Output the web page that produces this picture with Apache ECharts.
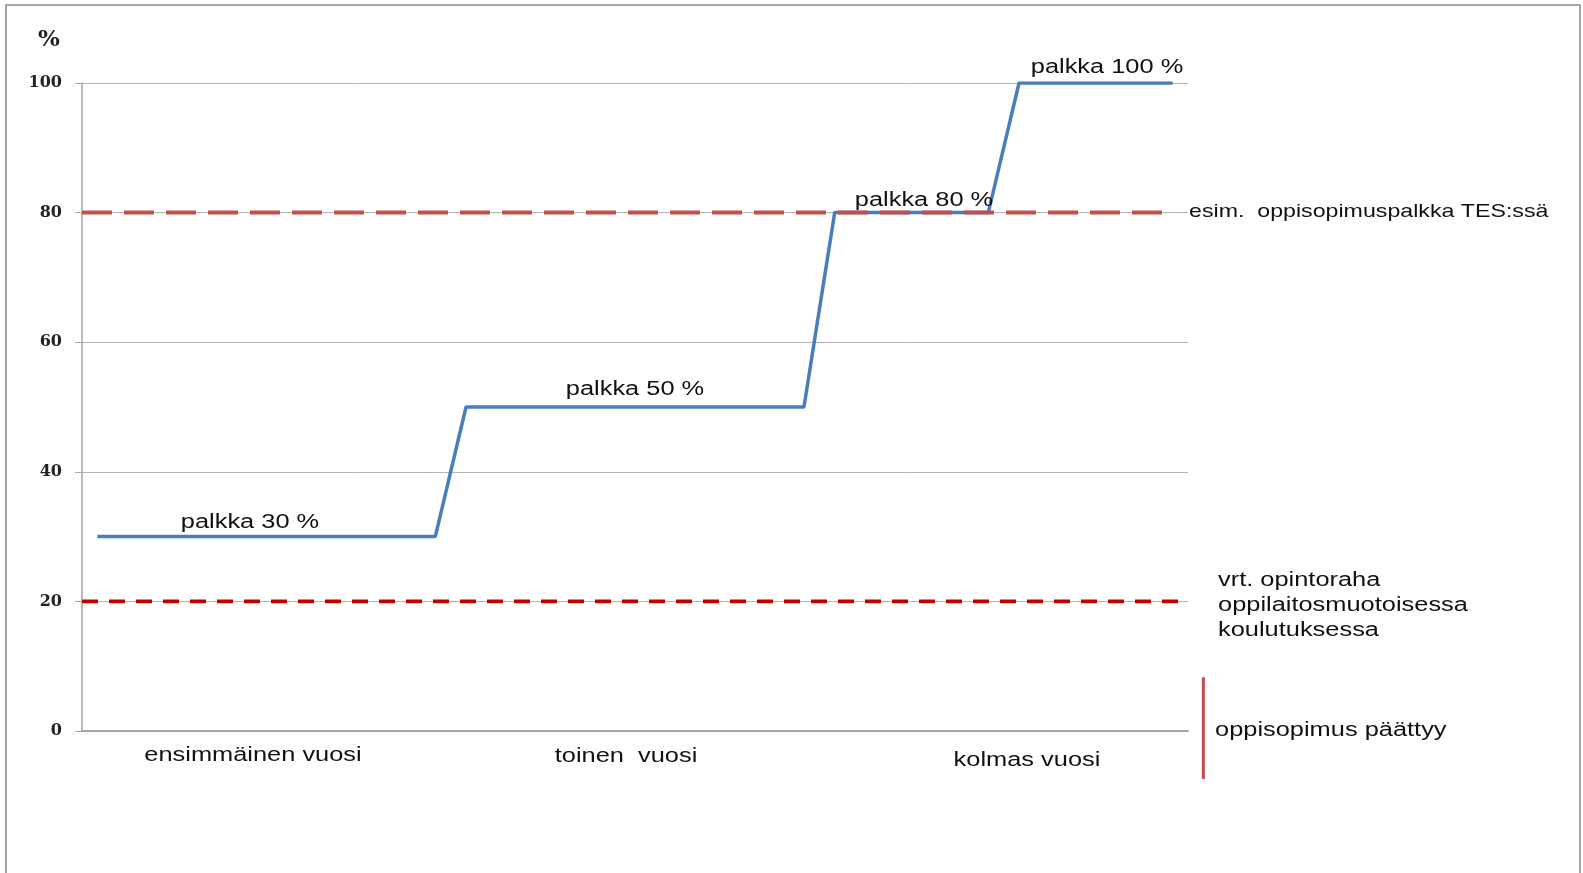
<!DOCTYPE html>
<html><head><meta charset="utf-8">
<script src="https://cdn.jsdelivr.net/npm/echarts@6/dist/echarts.min.js"></script>
<style>html,body{margin:0;padding:0;background:#fff}#c{width:1583px;height:873px}</style>
</head><body><div id="c"></div>
<script>
// ---- data ----
const yTicks = [0, 20, 40, 60, 80, 100];
const yUnit = '%';
// months from start of apprenticeship vs. wage %
const wagePath = [[0.5,30],[11.5,30],[12.5,50],[23.5,50],[24.5,80],[29.5,80],[30.5,100],[35.5,100]];
const wageLabels = ['palkka 30 %', 'palkka 50 %', 'palkka 80 %', 'palkka 100 %'];
const tesLine = [[0,80],[35.5,80]];
const opintorahaLine = [[0,20],[36,20]];
const endMarker = [[36.5,8.3],[36.5,-7.4]];
const yearLabels = ['ensimmäinen vuosi', 'toinen  vuosi', 'kolmas vuosi'];
const tesText = 'esim.  oppisopimuspalkka TES:ssä';
const opintorahaText = ['vrt. opintoraha', 'oppilaitosmuotoisessa', 'koulutuksessa'];
const endText = 'oppisopimus päättyy';

// ---- chart ----
const SANS = '"Liberation Sans", Arial, sans-serif';
const SX = 1.27;
function txt(text, x, y, align, opt) {
  opt = opt || {};
  return {
    type: 'text', x: x, y: y, scaleX: opt.sx || SX, z: 100,
    style: {
      text: text, fill: '#111',
      font: (opt.size || 20) + 'px ' + SANS,
      textAlign: align, textVerticalAlign: 'middle'
    }
  };
}
const graphics = [
  { type: 'rect', shape: { x: 6, y: 5, width: 1574, height: 900 }, style: { fill: 'none', stroke: '#a8a8a8', lineWidth: 2 }, silent: true, z: -1 },
  { type: 'text', x: 49, y: 40, style: { text: yUnit, fill: '#222', font: 'bold 23px "DejaVu Serif", serif', textAlign: 'center', textVerticalAlign: 'middle' } },
  txt(wageLabels[0], 250, 522, 'center'),
  txt(wageLabels[1], 635, 389, 'center'),
  txt(wageLabels[2], 924, 200, 'center'),
  txt(wageLabels[3], 1107, 67, 'center'),
  txt(yearLabels[0], 253, 755, 'center'),
  txt(yearLabels[1], 626, 756, 'center'),
  txt(yearLabels[2], 1027, 760, 'center'),
  txt(tesText, 1189, 212, 'left', { size: 19, sx: 1.22 }),
  txt(opintorahaText[0], 1218, 580, 'left'),
  txt(opintorahaText[1], 1218, 605, 'left'),
  txt(opintorahaText[2], 1218, 630, 'left'),
  txt(endText, 1215, 730, 'left')
];

const chart = echarts.init(document.getElementById('c'), null, { renderer: 'canvas' });
chart.setOption({
  animation: false,
  backgroundColor: '#fff',
  grid: { left: 82, right: 395, top: 83, bottom: 142, containLabel: false },
  xAxis: {
    type: 'value', min: 0, max: 36,
    axisLine: { show: true, onZero: false, lineStyle: { color: '#a6a6a6', width: 2 } },
    axisTick: { show: false }, axisLabel: { show: false }, splitLine: { show: false }
  },
  yAxis: {
    type: 'value', min: yTicks[0], max: yTicks[yTicks.length - 1], interval: yTicks[1] - yTicks[0],
    axisLine: { show: true, lineStyle: { color: '#a6a6a6', width: 1.5 } },
    axisTick: { show: true, inside: false, length: 7, lineStyle: { color: '#a6a6a6' } },
    axisLabel: { margin: 20, color: '#222', fontFamily: '"DejaVu Serif", serif', fontWeight: 'bold', fontSize: 16 },
    splitLine: { show: true, lineStyle: { color: '#b4b4b4', width: 1 } }
  },
  series: [
    { type: 'line', data: wagePath, symbol: 'none', z: 2,
      lineStyle: { color: '#4a7ebb', width: 3.5 } },
    { type: 'line', data: tesLine, symbol: 'none', z: 3,
      lineStyle: { color: '#c0504d', width: 4, type: [30, 12] } },
    { type: 'line', data: opintorahaLine, symbol: 'none', z: 3,
      lineStyle: { color: '#c00000', width: 3.7, type: [16, 11] } }
  ],
  graphic: graphics
});
// "oppisopimus päättyy" marker, placed through the axes' scales (outside the plot extent)
const p1 = chart.convertToPixel({ gridIndex: 0 }, endMarker[0]);
const p2 = chart.convertToPixel({ gridIndex: 0 }, endMarker[1]);
graphics.push({ type: 'line', z: 50, shape: { x1: p1[0], y1: p1[1], x2: p2[0], y2: p2[1] },
  style: { stroke: '#c0504d', lineWidth: 3 } });
chart.setOption({ graphic: graphics });
</script></body></html>
